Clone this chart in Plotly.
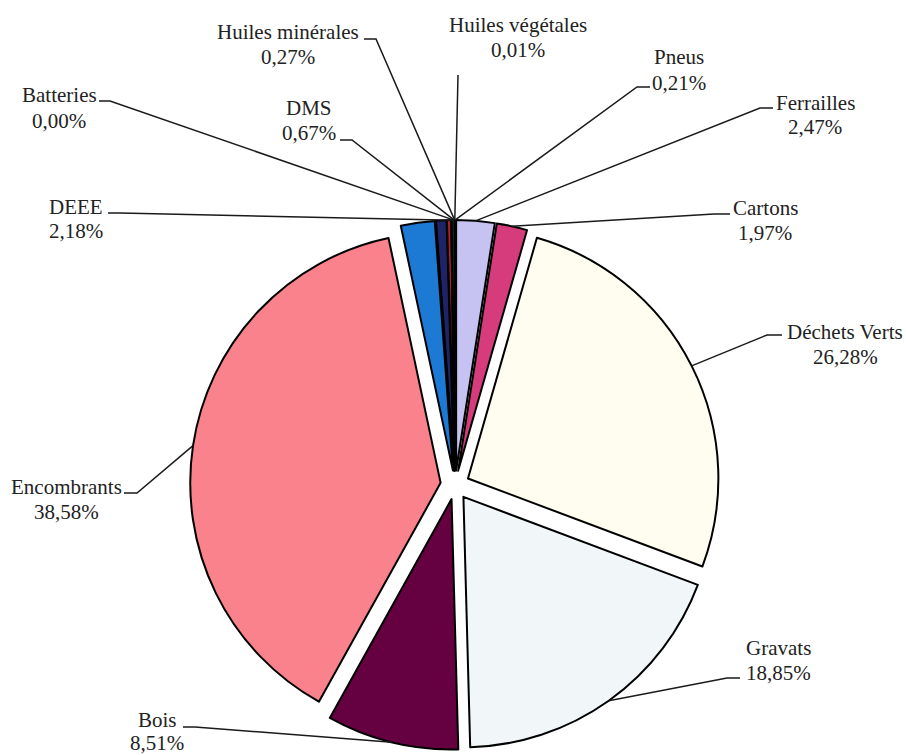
import math
import plotly.graph_objects as go

# ---------------- data ----------------
categories = ["Ferrailles", "Cartons", "Déchets Verts", "Gravats", "Bois", "Encombrants",
              "DEEE", "Batteries", "DMS", "Huiles minérales", "Huiles végétales", "Pneus"]
shares = [2.47, 1.97, 26.28, 18.85, 8.51, 38.58, 2.18, 0.00, 0.67, 0.27, 0.01, 0.21]
pct_labels = [f"{v:.2f}".replace(".", ",") + "%" for v in shares]

# ---------------- style ----------------
colors = ["#C6C2F2", "#D63C7C", "#FFFDF0", "#F1F6F9", "#650041", "#FA828C",
          "#1C7AD4", "#9A9A9A", "#1E2466", "#B82030", "#E8C020", "#0F2A1A"]

W, H = 906, 755
PULL = 0.058
CX, CY, R = 455.0, 485.0, 250.4          # pie centre / radius in px
BOX = 2 * R * (1 + PULL)
FONT = "'Liberation Serif', 'Times New Roman', serif"
TXT = "#222222"

# label block centres (px): x, y of name line, y of percent line
label_pos = {
    "Ferrailles":       (815, 103, 127),
    "Cartons":          (765, 208, 233),
    "Déchets Verts":    (845, 332, 357),
    "Gravats":          (778, 648, 673),
    "Bois":             (157, 720, 743),
    "Encombrants":      (66, 487, 512),
    "DEEE":             (76, 207, 231),
    "Batteries":        (59, 95, 121),
    "DMS":              (309, 108, 133),
    "Huiles minérales": (288, 32, 57),
    "Huiles végétales": (518, 25, 50),
    "Pneus":            (679, 57, 83),
}
# leader stub: start x, end x, y (px)
stubs = {
    "Ferrailles":       (773, 760, 108),
    "Cartons":          (730, 714, 214),
    "Déchets Verts":    (782, 767, 335),
    "Gravats":          (740, 727, 678),
    "Bois":             (183, 195, 727),
    "Encombrants":      (124, 137, 493),
    "DEEE":             (108, 120, 213),
    "Batteries":        (99, 110, 101),
    "DMS":              (340, 352, 140),
    "Huiles minérales": (364, 376, 39),
    "Huiles végétales": (458, 458, 75),
    "Pneus":            (650, 637, 87),
}
to_top = {"DEEE", "Batteries", "DMS", "Huiles minérales", "Huiles végétales", "Pneus"}

# ---------------- figure ----------------
fig = go.Figure(go.Pie(
    labels=categories, values=shares, sort=False, direction="clockwise", rotation=0,
    pull=[PULL] * len(shares), textinfo="none", hoverinfo="label+percent",
    marker=dict(colors=colors, line=dict(color="#000000", width=2)),
    domain=dict(x=[(CX - BOX / 2) / W, (CX + BOX / 2) / W],
                y=[1 - (CY + BOX / 2) / H, 1 - (CY - BOX / 2) / H]),
    showlegend=False,
))

total = sum(shares)
cum = 0.0
annotations, shapes = [], []
px = lambda x: x / W
py = lambda y: 1 - y / H
for name, v, pct in zip(categories, shares, pct_labels):
    a0 = cum / total * 2 * math.pi
    cum += v
    a1 = cum / total * 2 * math.pi
    mid = (a0 + a1) / 2
    ox, oy = CX + PULL * R * math.sin(mid), CY - PULL * R * math.cos(mid)
    a = 2 * math.pi if name in to_top else mid
    tx, ty = ox + R * math.sin(a), oy - R * math.cos(a)

    lx, ly1, ly2 = label_pos[name]
    for txt, yy in ((name, ly1), (pct, ly2)):
        annotations.append(dict(x=px(lx), y=py(yy), xref="paper", yref="paper",
                                text=txt, showarrow=False, xanchor="center", yanchor="middle",
                                font=dict(family=FONT, size=21, color=TXT)))
    sx0, sx1, sy = stubs[name]
    shapes.append(dict(type="path", xref="paper", yref="paper",
                       path=f"M {px(sx0)},{py(sy)} L {px(sx1)},{py(sy)} L {px(tx)},{py(ty)}",
                       line=dict(color="#1a1a1a", width=1.5)))

fig.update_layout(width=W, height=H, margin=dict(l=0, r=0, t=0, b=0),
                  paper_bgcolor="white", plot_bgcolor="white",
                  annotations=annotations, shapes=shapes)

fig.write_html("out.html", config={"displayModeBar": False},
               post_script="document.body.style.margin='0';document.body.style.overflow='hidden';")
